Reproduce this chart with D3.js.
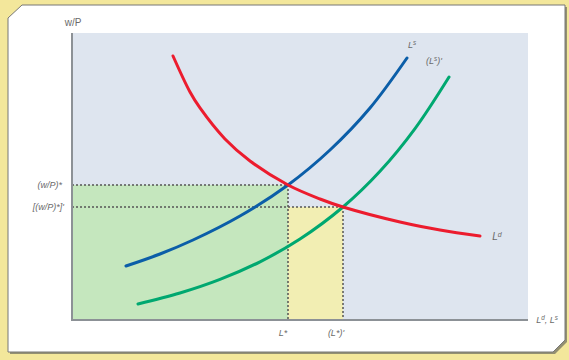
<!DOCTYPE html>
<html><head><meta charset="utf-8">
<script src="https://cdn.jsdelivr.net/npm/d3@7/dist/d3.min.js"></script>
<style>html,body{margin:0;padding:0;background:#f3e79b;}svg{display:block;}</style>
</head><body>
<svg id="c" width="569" height="360"></svg>
<script>
// Data (in chart units: x 0..100, y 0..100)
const demandLd = [[22.15,91.99],[25.88,79.44],[28.07,73.87],[33.55,63.07],[39.04,55.40],[47.37,47.04],[54.39,42.16],[59.43,39.37],[71.93,34.15],[80.70,31.36],[89.47,29.27]];
const supplyLs = [[11.84,18.82],[19.30,23.00],[26.54,27.87],[36.84,36.24],[47.37,47.04],[56.58,59.23],[65.35,73.87],[73.46,91.29]];
const supplyLs2 = [[14.47,5.57],[23.68,9.41],[32.46,14.15],[41.23,20.28],[50.00,28.22],[59.43,39.37],[67.54,51.81],[75.22,66.69],[82.68,84.67]];
const equilibria = [[47.37,47.04],[59.43,39.37]];
const yTickLabels = ["(w/P)*","[(w/P)*]'"];
const xTickLabels = ["L*","(L*)'"];

const svg = d3.select("#c");
const x = d3.scaleLinear().domain([0,100]).range([72,528]);
const y = d3.scaleLinear().domain([0,100]).range([320,33]);

// panel
svg.append("path").attr("d","M24,7 L567,7 L567,342 L555,354 L10,354 L10,20 Z").attr("fill","#6b6b60").attr("opacity",0.7);
svg.append("path").attr("d","M22,5 L565,5 L565,340 L553,352 L8,352 L8,18 Z").attr("fill","#fff").attr("stroke","#777").attr("stroke-width",1);

// plot background
svg.append("rect").attr("x",x(0)).attr("y",y(100)).attr("width",x(100)-x(0)).attr("height",y(0)-y(100)).attr("fill","#dee5ef");
// green area
svg.append("rect").attr("x",x(0)).attr("y",y(equilibria[0][1])).attr("width",x(equilibria[0][0])-x(0)).attr("height",y(0)-y(equilibria[0][1])).attr("fill","#c5e7be");
// yellow area
svg.append("rect").attr("x",x(equilibria[0][0])).attr("y",y(equilibria[1][1])).attr("width",x(equilibria[1][0])-x(equilibria[0][0])).attr("height",y(0)-y(equilibria[1][1])).attr("fill","#f2eeb3");

// dashed guides
equilibria.forEach(e=>{
  svg.append("line").attr("x1",x(0)).attr("x2",x(e[0])).attr("y1",y(e[1])).attr("y2",y(e[1])).attr("stroke","#555").attr("stroke-width",1.5).attr("stroke-dasharray","2,2");
  svg.append("line").attr("x1",x(e[0])).attr("x2",x(e[0])).attr("y1",y(e[1])).attr("y2",y(0)).attr("stroke","#555").attr("stroke-width",1.5).attr("stroke-dasharray","2,2");
});

// axes
svg.append("line").attr("x1",x(0)).attr("x2",x(0)).attr("y1",y(100)).attr("y2",y(0)+1).attr("stroke","#8c9196").attr("stroke-width",2);
svg.append("line").attr("x1",x(0)-1).attr("x2",x(100)).attr("y1",y(0)).attr("y2",y(0)).attr("stroke","#8c9196").attr("stroke-width",2);

const line = d3.line().x(d=>x(d[0])).y(d=>y(d[1])).curve(d3.curveCatmullRom.alpha(0.5));
svg.append("path").attr("d",line(supplyLs2)).attr("fill","none").attr("stroke","#00a870").attr("stroke-width",3).attr("stroke-linecap","round");
svg.append("path").attr("d",line(supplyLs)).attr("fill","none").attr("stroke","#0b5ea8").attr("stroke-width",3).attr("stroke-linecap","round");
svg.append("path").attr("d",line(demandLd)).attr("fill","none").attr("stroke","#ec1c2e").attr("stroke-width",3).attr("stroke-linecap","round");

const tc = "#6a6a6a";
const F = "'Liberation Sans', Arial, sans-serif";
function label(px,py,anchor,parts,size,italic){
  const t = svg.append("text").attr("x",px).attr("y",py).attr("text-anchor",anchor)
    .attr("font-family",F).attr("font-size",size).attr("fill",tc).attr("font-style",italic?"italic":"normal");
  parts.forEach(p=>{
    const s = t.append("tspan").text(p.t);
    if(p.sup){ s.attr("baseline-shift","super").attr("font-size",size*0.7); }
  });
  return t;
}
// axis titles
label(73,26,"middle",[{t:"w/P"}],10,false);
label(547,323,"middle",[{t:"L"},{t:"d",sup:true},{t:", L"},{t:"s",sup:true}],9,true);
// y tick labels
label(62,y(equilibria[0][1])+3,"end",[{t:yTickLabels[0]}],9,true);
label(64,y(equilibria[1][1])+3,"end",[{t:yTickLabels[1]}],9,true);
// x tick labels
label(x(equilibria[0][0])-5,336,"middle",[{t:xTickLabels[0]}],9,true);
label(x(equilibria[1][0])-7,336,"middle",[{t:xTickLabels[1]}],9,true);
// curve labels
label(412,48,"middle",[{t:"L"},{t:"s",sup:true}],9,true);
label(434,64,"middle",[{t:"(L"},{t:"s",sup:true},{t:")'"}],9,true);
label(497,240,"middle",[{t:"L"},{t:"d",sup:true}],10,true);
</script>
</body></html>
